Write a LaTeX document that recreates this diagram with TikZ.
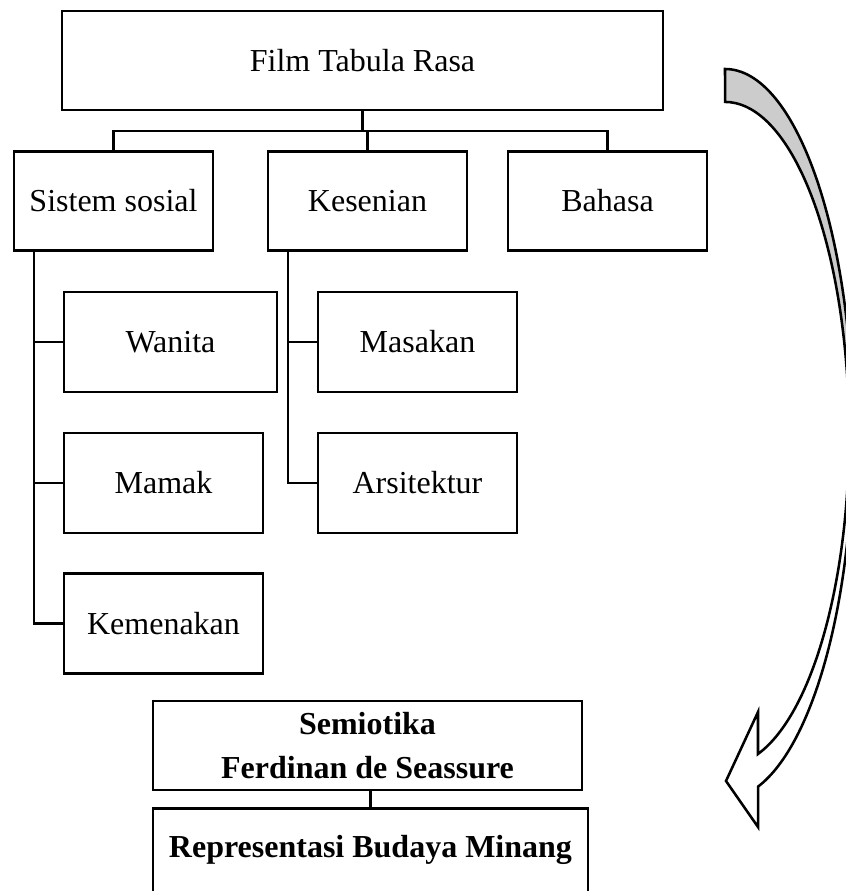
\documentclass[tikz,border=0pt]{standalone}
\usepackage{fontspec}
\setmainfont{Liberation Serif}
\usepackage{tikz}
\definecolor{ribbon}{HTML}{CCCCCC}

\begin{document}
\begin{tikzpicture}[x=0.375pt,y=0.375pt,
  box/.style={draw,line width=0.95pt,font=\fontsize{12}{14}\selectfont,
    minimum width=74.6pt,minimum height=37.1pt,inner sep=0pt},
  boldbox/.style={box,font=\fontsize{12}{14}\selectfont\bfseries},
  wire/.style={line width=0.95pt},
  arrowline/.style={line width=0.95pt,line join=miter}]
  \useasboundingbox (0,0) rectangle (846,891);
  % top level
  \node[box,minimum width=225.4pt] (film) at (362.5,830.5) {Film Tabula Rasa};
  \node[box] (sistem) at (113.5,690) {Sistem sosial};
  \node[box] (kesenian) at (367.5,690) {Kesenian};
  \node[box] (bahasa) at (607.5,690) {Bahasa};
  \coordinate (bus) at (0,760);
  \draw[wire] (film.south) -- (film.south |- bus);
  \draw[wire] (sistem.north) -- (sistem.north |- bus) -| (bahasa.north);
  \draw[wire] (kesenian.north) -- (kesenian.north |- bus);
  % sistem sosial
  \node[box,minimum width=79.9pt,minimum height=37.5pt] (wanita) at (170.5,549) {Wanita};
  \node[box,minimum height=37.5pt] (mamak) at (163.5,408) {Mamak};
  \node[box,minimum height=37.5pt] (kemenakan) at (163.5,267.5) {Kemenakan};
  \coordinate (s-trunk) at (34,641);
  \draw[wire] (s-trunk) |- (kemenakan.west);
  \draw[wire] (s-trunk |- wanita.west) -- (wanita.west);
  \draw[wire] (s-trunk |- mamak.west) -- (mamak.west);
  % kesenian
  \node[box,minimum height=37.5pt] (masakan) at (417.5,549) {Masakan};
  \node[box,minimum height=37.5pt] (arsitektur) at (417.5,408) {Arsitektur};
  \coordinate (k-trunk) at (288,641);
  \draw[wire] (k-trunk) |- (arsitektur.west);
  \draw[wire] (k-trunk |- masakan.west) -- (masakan.west);
  % semiotika
  \node[boldbox,align=center,minimum width=160.9pt,minimum height=33.4pt] (semiotika)
    at (367.5,145.5) {Semiotika\\[2.2pt]Ferdinan de Seassure};
  \node[boldbox,anchor=north,minimum width=163.1pt,inner ysep=8.4pt,
    text height=10pt,text depth=20pt] (budaya) at (370.5,84) {Representasi Budaya Minang};
  \draw[wire] (semiotika.south -| budaya.north) -- (budaya.north);
  % curved arrow
  \fill[ribbon] (725,822) arc[start angle=90,end angle=0,x radius=128,y radius=365]
    -- (849,457) arc[start angle=0,end angle=90,x radius=124,y radius=332] -- cycle;
  \draw[arrowline] (725,822) arc[start angle=90,end angle=-75,x radius=128,y radius=365]
    -- (758,64) -- (726,110) -- (758,179) -- (758,137)
    arc[start angle=-74.6,end angle=90,x radius=124,y radius=332] -- cycle;
\end{tikzpicture}
\end{document}
